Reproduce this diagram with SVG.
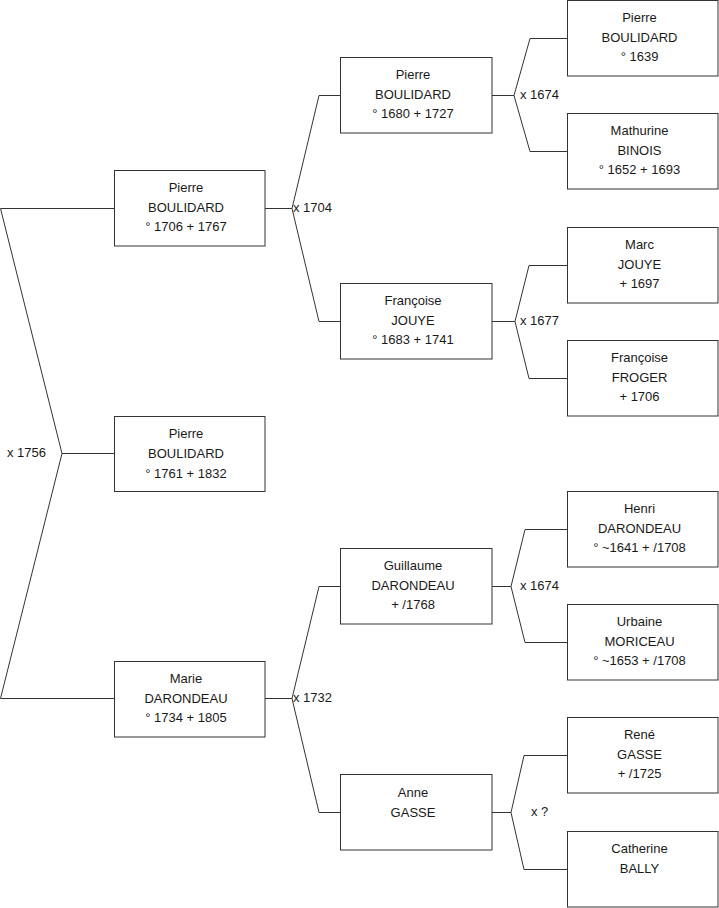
<svg xmlns="http://www.w3.org/2000/svg" width="719" height="908" viewBox="0 0 719 908">
<style>
.b{fill:#fff;stroke:#333;stroke-width:1}
.c{fill:none;stroke:#333;stroke-width:1}
text{font-family:"Liberation Sans",Arial,sans-serif;font-size:13px;fill:#1a1a1a}
.m{text-anchor:middle}
</style>
<rect width="719" height="908" fill="#fff"/>
<g id="connectors" class="c">
<polyline points="114,208.5 0.5,208.5 62,453.5 0.5,698.5 114,698.5"/>
<line x1="62" y1="453.5" x2="114" y2="453.5"/>
<polyline points="265,208.5 292,208.5"/>
<polyline points="340,95.5 319,95.5 292,208.5 319,321.5 340,321.5"/>
<polyline points="265,698.5 292,698.5"/>
<polyline points="340,586.5 319,586.5 292,698.5 319,812.5 340,812.5"/>
<polyline points="492,95.5 514,95.5"/>
<polyline points="567,38.5 530,38.5 514,95.5 530,151.5 567,151.5"/>
<polyline points="492,321.5 515,321.5"/>
<polyline points="567,265.5 529,265.5 515,321.5 529,378.5 567,378.5"/>
<polyline points="492,586.5 511,586.5"/>
<polyline points="567,529.5 525,529.5 511,586.5 525,642.5 567,642.5"/>
<polyline points="492,812.5 511,812.5"/>
<polyline points="567,755.5 524,755.5 511,812.5 524,869.5 567,869.5"/>
</g>
<g id="labels">
<text x="7" y="457">x 1756</text>
<text x="293" y="212">x 1704</text>
<text x="293" y="702">x 1732</text>
<text x="520" y="99">x 1674</text>
<text x="520" y="325">x 1677</text>
<text x="520" y="590">x 1674</text>
<text x="531" y="816">x ?</text>
</g>
<g id="n1"><rect class="b" x="114.5" y="170.5" width="150.5" height="75.5"/><text class="m" x="186" y="192">Pierre</text><text class="m" x="186" y="212">BOULIDARD</text><text class="m" x="186" y="231">° 1706 + 1767</text></g>
<g id="n2"><rect class="b" x="114.5" y="416.5" width="150.5" height="75"/><text class="m" x="186" y="438">Pierre</text><text class="m" x="186" y="458">BOULIDARD</text><text class="m" x="186" y="478">° 1761 + 1832</text></g>
<g id="n3"><rect class="b" x="114.5" y="661.5" width="150.5" height="75.5"/><text class="m" x="186" y="683">Marie</text><text class="m" x="186" y="703">DARONDEAU</text><text class="m" x="186" y="722">° 1734 + 1805</text></g>
<g id="n4"><rect class="b" x="340.5" y="57.5" width="151.5" height="75.5"/><text class="m" x="413" y="79">Pierre</text><text class="m" x="413" y="99">BOULIDARD</text><text class="m" x="413" y="118">° 1680 + 1727</text></g>
<g id="n5"><rect class="b" x="340.5" y="283.5" width="151.5" height="75.5"/><text class="m" x="413" y="305">Françoise</text><text class="m" x="413" y="325">JOUYE</text><text class="m" x="413" y="344">° 1683 + 1741</text></g>
<g id="n6"><rect class="b" x="340.5" y="548.5" width="151.5" height="75.5"/><text class="m" x="413" y="570">Guillaume</text><text class="m" x="413" y="590">DARONDEAU</text><text class="m" x="413" y="609">+ /1768</text></g>
<g id="n7"><rect class="b" x="340.5" y="774.5" width="151.5" height="75.5"/><text class="m" x="413" y="797">Anne</text><text class="m" x="413" y="817">GASSE</text></g>
<g id="n8"><rect class="b" x="567.5" y="0.5" width="150.5" height="75.5"/><text class="m" x="639.5" y="22">Pierre</text><text class="m" x="639.5" y="42">BOULIDARD</text><text class="m" x="639.5" y="61">° 1639</text></g>
<g id="n9"><rect class="b" x="567.5" y="113.5" width="150.5" height="75.5"/><text class="m" x="639.5" y="135">Mathurine</text><text class="m" x="639.5" y="155">BINOIS</text><text class="m" x="639.5" y="174">° 1652 + 1693</text></g>
<g id="n10"><rect class="b" x="567.5" y="227.5" width="150.5" height="75.5"/><text class="m" x="639.5" y="249">Marc</text><text class="m" x="639.5" y="269">JOUYE</text><text class="m" x="639.5" y="288">+ 1697</text></g>
<g id="n11"><rect class="b" x="567.5" y="340.5" width="150.5" height="75.5"/><text class="m" x="639.5" y="362">Françoise</text><text class="m" x="639.5" y="382">FROGER</text><text class="m" x="639.5" y="401">+ 1706</text></g>
<g id="n12"><rect class="b" x="567.5" y="491.5" width="150.5" height="75.5"/><text class="m" x="639.5" y="513">Henri</text><text class="m" x="639.5" y="533">DARONDEAU</text><text class="m" x="639.5" y="552">° ~1641 + /1708</text></g>
<g id="n13"><rect class="b" x="567.5" y="604.5" width="150.5" height="75.5"/><text class="m" x="639.5" y="626">Urbaine</text><text class="m" x="639.5" y="646">MORICEAU</text><text class="m" x="639.5" y="665">° ~1653 + /1708</text></g>
<g id="n14"><rect class="b" x="567.5" y="717.5" width="150.5" height="75.5"/><text class="m" x="639.5" y="739">René</text><text class="m" x="639.5" y="759">GASSE</text><text class="m" x="639.5" y="778">+ /1725</text></g>
<g id="n15"><rect class="b" x="567.5" y="831.5" width="150.5" height="75.5"/><text class="m" x="639.5" y="853">Catherine</text><text class="m" x="639.5" y="873">BALLY</text></g>
</svg>
